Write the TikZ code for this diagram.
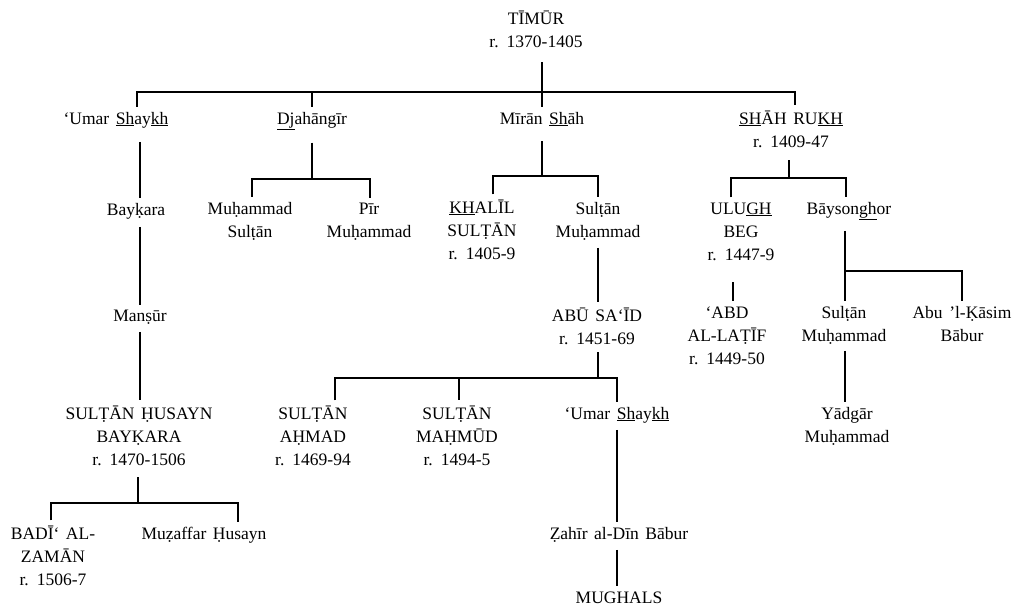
\documentclass[tikz,border=0pt]{standalone}
\usepackage{fontspec}
\setmainfont{Liberation Serif}[WordSpace=1.5]
\begin{document}
\begin{tikzpicture}[x=1pt,y=-1pt,
  lbl/.style={inner xsep=0pt,inner ysep=5pt,outer sep=0pt,align=center,anchor=base,
    font=\fontsize{17.5}{23}\selectfont},
  link/.style={line width=1.3pt,line cap=butt},
  gap/.style={shorten <=#1}]
\useasboundingbox (0,0) rectangle (1013,606);
% nodes (anchor = baseline of the last line)
\node[lbl] (timur) at (536,47) {TĪMŪR\\r. 1370-1405};
\node[lbl] (umar1) at (116,124) {‘Umar \underline{Sh}ay\underline{kh}};
\node[lbl] (djah) at (312,124) {\underline{Dj}ahāngīr};
\node[lbl] (miran) at (542,124) {Mīrān \underline{Sh}āh};
\node[lbl] (shah) at (791,147) {\underline{SH}ĀH RU\underline{KH}\\r. 1409-47};
\node[lbl] (baykara) at (136,215) {Bayḳara};
\node[lbl] (mansur) at (140,321) {Manṣūr};
\node[lbl] (husayn) at (139,465) {SULṬĀN ḤUSAYN\\BAYḲARA\\r. 1470-1506};
\node[lbl] (badi) at (53,585) {BADĪ‘ AL-\\ZAMĀN\\r. 1506-7};
\node[lbl] (muzaffar) at (204,539) {Muẓaffar Ḥusayn};
\node[lbl] (muhsultan) at (250,237) {Muḥammad\\Sulṭān};
\node[lbl] (pir) at (369,237) {Pīr\\Muḥammad};
\node[lbl] (khalil) at (482,259) {\underline{KH}ALĪL\\SULṬĀN\\r. 1405-9};
\node[lbl] (sultmuh) at (598,237) {Sulṭān\\Muḥammad};
\node[lbl] (abusaid) at (597,344) {ABŪ SA‘ĪD\\r. 1451-69};
\node[lbl] (ahmad) at (313,465) {SULṬĀN\\AḤMAD\\r. 1469-94};
\node[lbl] (mahmud) at (457,465) {SULṬĀN\\MAḤMŪD\\r. 1494-5};
\node[lbl] (umar2) at (617,419) {‘Umar \underline{Sh}ay\underline{kh}};
\node[lbl] (zahir) at (619,539) {Ẓahīr al-Dīn Bābur};
\node[lbl] (mughals) at (619,603) {MUGHALS};
\node[lbl] (ulugh) at (741,260) {ULU\underline{GH}\\BEG\\r. 1447-9};
\node[lbl] (bays) at (849,214) {Bāyson\underline{gh}or};
\node[lbl] (abd) at (727,364) {‘ABD\\AL-LAṬĪF\\r. 1449-50};
\node[lbl] (sultmuh2) at (844,341) {Sulṭān\\Muḥammad};
\node[lbl] (abukasim) at (962,341) {Abu ’l-Ḳāsim\\Bābur};
\node[lbl] (yadgar) at (847,442) {Yādgār\\Muḥammad};
% junction coordinates
\coordinate (tL) at (137,92);
\coordinate (tR) at (795,92);
\coordinate (st1) at (140,0);
\coordinate (hL) at (51,503);
\coordinate (hM) at (138,503);
\coordinate (hR) at (238,503);
\coordinate (dL) at (252,179);
\coordinate (dR) at (370,179);
\coordinate (mL) at (493,176);
\coordinate (mR) at (598,176);
\coordinate (aL) at (335,378);
\coordinate (aM) at (459,378);
\coordinate (aR) at (617,378);
\coordinate (sL) at (731,178);
\coordinate (sM) at (789,178);
\coordinate (sR) at (846,178);
\coordinate (uk) at (733,0);
\coordinate (bL) at (845,271);
\coordinate (bR) at (962,271);
% connectors
\draw[link,gap=10pt] (timur.south -| miran) -- (miran.north);
\draw[link] (tL |- umar1.north) -- (tL) -- (tR) -- (tR |- shah.north);
\draw[link] (djah.north) -- (djah.north |- tL);
\draw[link,gap=9pt] (umar1.south -| st1) -- (baykara.north -| st1);
\draw[link,gap=3pt] (baykara.south -| st1) -- (mansur.north -| st1);
\draw[link,gap=3pt] (mansur.south -| st1) -- (husayn.north -| st1);
\draw[link,gap=7pt] (husayn.south -| hM) -- (hM);
\draw[link] (hL |- badi.north) -- (hL) -- (hR) -- (hR |- muzaffar.north);
\draw[link,gap=8pt] (djah.south) -- (djah.south |- dL);
\draw[link] (dL |- muhsultan.north) -- (dL) -- (dR) -- (dR |- pir.north);
\draw[link,gap=10pt] (miran.south) -- (miran.south |- mL);
\draw[link] (mL |- khalil.north) -- (mL) -- (mR) -- (mR |- sultmuh.north);
\draw[link,gap=3pt] (sultmuh.south) -- (abusaid.north -| sultmuh);
\draw[link,gap=3pt] (abusaid.south -| sultmuh) -- (aR -| sultmuh);
\draw[link] (aL |- ahmad.north) -- (aL) -- (aR) -- (aR |- umar2.north);
\draw[link] (aM) -- (aM |- mahmud.north);
\draw[link,gap=2pt] (umar2.south -| aR) -- (zahir.north -| aR);
\draw[link,gap=3pt] (zahir.south -| aR) -- (mughals.north -| aR);
\draw[link,gap=8pt] (shah.south -| sM) -- (sM);
\draw[link] (sL |- ulugh.north) -- (sL) -- (sR) -- (sR |- bays.north);
\draw[link,gap=17pt] (ulugh.south -| uk) -- (abd.north -| uk);
\draw[link,gap=6pt] (bays.south -| bL) -- (sultmuh2.north -| bL);
\draw[link] (bL) -- (bR) -- (bR |- abukasim.north);
\draw[link,gap=2pt] (sultmuh2.south -| bL) -- (yadgar.north -| bL);
\end{tikzpicture}
\end{document}
